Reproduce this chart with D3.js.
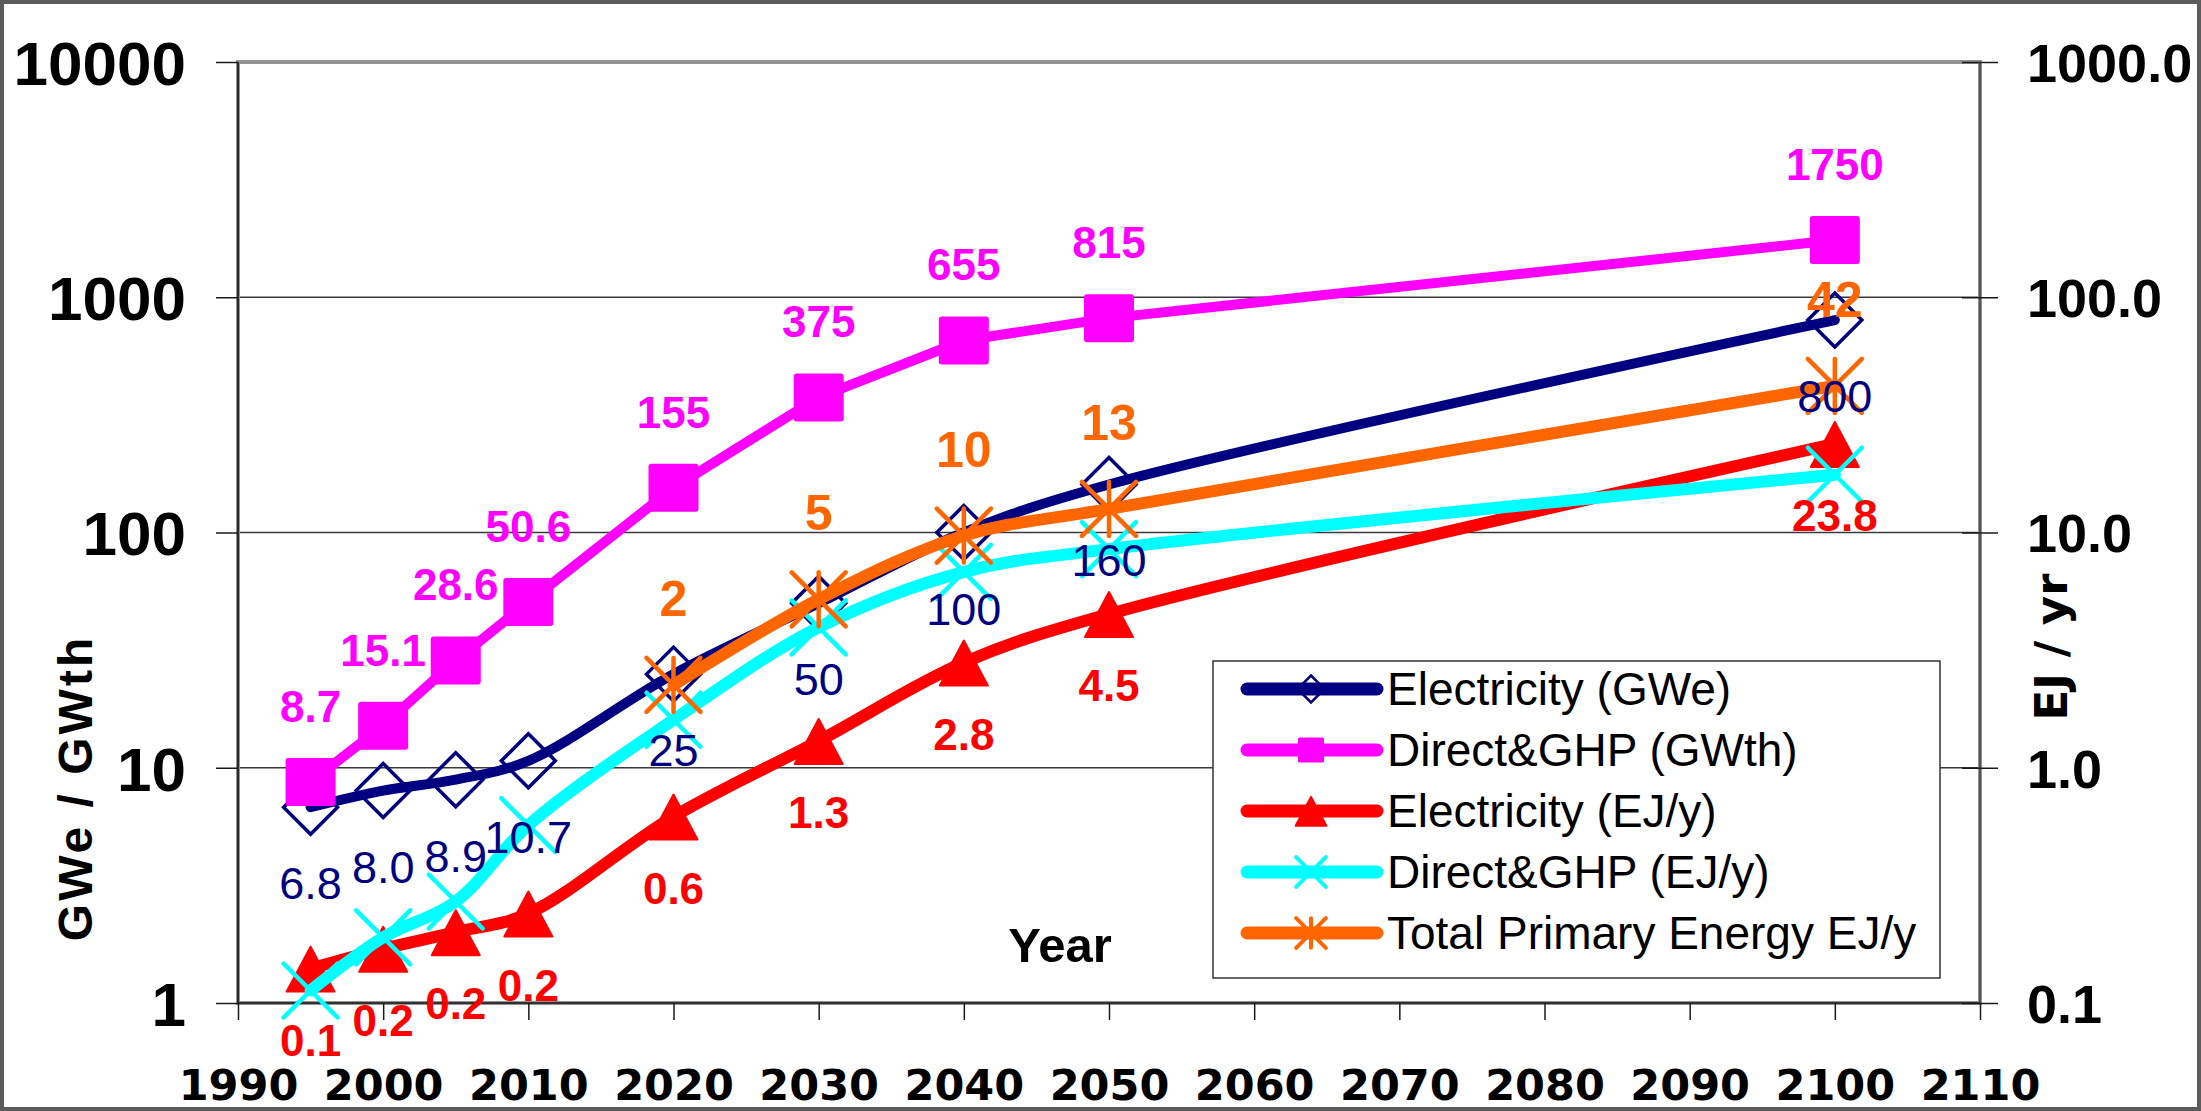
<!DOCTYPE html>
<html>
<head>
<meta charset="utf-8">
<title>Geothermal capacity and energy, 1995-2100</title>
<script src="https://d3js.org/d3.v7.min.js"></script>
<style>
  body { margin: 0; background: #fff; }
  svg { display: block; }
  .ax text { fill: #000; font-weight: bold; }
  .ax line { stroke: #1a1a1a; stroke-width: 1.5; }
</style>
</head>
<body>
<div id="chart"></div>
<script>
// x categories (years) and series values
var years = [1995, 2000, 2005, 2010, 2020, 2030, 2040, 2050, 2100];
var elecGWe = [6.8, 8.0, 8.9, 10.7, 25, 50, 100, 160, 800];
var directGWth = [8.7, 15.1, 28.6, 50.6, 155, 375, 655, 815, 1750];
var elecEJ = [0.14, 0.17, 0.2, 0.24, 0.62, 1.3, 2.8, 4.5, 23.8];
var directEJ = [0.113, 0.19, 0.27, 0.57, 1.6, 3.95, 6.8, 8.5, 17.6];
var tpeYears = [2020, 2030, 2040, 2050, 2100];
var tpeEJ = [2.25, 5.2, 9.7, 12.6, 42];

// tick labels
var xTicks = [1990, 2000, 2010, 2020, 2030, 2040, 2050, 2060, 2070, 2080, 2090, 2100, 2110];
var leftTicks = [1, 10, 100, 1000, 10000];
var rightTicks = [0.1, 1, 10, 100, 1000];

var W = 2201, H = 1111;
var ARIAL = "'Liberation Sans', Arial, sans-serif";
var VERDANA = "'DejaVu Sans', Verdana, sans-serif";

var svg = d3.select("#chart").append("svg")
  .attr("width", W)
  .attr("height", H);

svg.append("rect").attr("width", W).attr("height", H).attr("fill", "#fff");

var x = d3.scaleLinear().domain([1990, 2110]).range([238, 1980]);
var yL = d3.scaleLog().domain([1, 10000]).range([1003, 62]);
var yR = d3.scaleLog().domain([0.1, 1000]).range([1003, 62]);

// gridlines
svg.append("g").selectAll("line")
  .data([10, 100, 1000])
  .enter().append("line")
  .attr("x1", x(1990)).attr("x2", x(2110))
  .attr("y1", function(d) { return yL(d); })
  .attr("y2", function(d) { return yL(d); })
  .attr("stroke", "#3a3a3a")
  .attr("stroke-width", 1.3);

// plot area border
svg.append("rect")
  .attr("x", x(1990)).attr("y", yL(10000))
  .attr("width", x(2110) - x(1990))
  .attr("height", yL(1) - yL(10000))
  .attr("fill", "none")
  .attr("stroke", "#929292")
  .attr("stroke-width", 4);

svg.append("line")
  .attr("x1", x(1990)).attr("x2", x(1990))
  .attr("y1", yL(10000)).attr("y2", yL(1))
  .attr("stroke", "#111").attr("stroke-width", 1.6);
svg.append("line")
  .attr("x1", x(1990)).attr("x2", x(2110))
  .attr("y1", yL(1)).attr("y2", yL(1))
  .attr("stroke", "#111").attr("stroke-width", 1.6);
svg.append("line")
  .attr("x1", x(2110)).attr("x2", x(2110))
  .attr("y1", yL(10000)).attr("y2", yL(1))
  .attr("stroke", "#444").attr("stroke-width", 1.6);

// axes
var xAxis = svg.append("g").attr("class", "ax")
  .attr("transform", "translate(0," + yL(1) + ")")
  .call(d3.axisBottom(x).tickValues(xTicks).tickSize(17).tickPadding(49)
    .tickFormat(d3.format("d")));
xAxis.select(".domain").remove();
xAxis.selectAll("text").style("font-family", VERDANA).style("font-size", "43px");

var leftAxis = svg.append("g").attr("class", "ax")
  .attr("transform", "translate(" + x(1990) + ",0)")
  .call(d3.axisLeft(yL).tickValues(leftTicks).tickSize(22).tickPadding(30)
    .tickFormat(d3.format("d")));
leftAxis.select(".domain").remove();
leftAxis.selectAll("text").attr("dy", "0.36em")
  .style("font-family", ARIAL).style("font-size", "62px");

var rightAxis = svg.append("g").attr("class", "ax")
  .attr("transform", "translate(" + (x(2110) - 18) + ",0)")
  .call(d3.axisRight(yR).tickValues(rightTicks).tickSize(36).tickPadding(29)
    .tickFormat(d3.format(".1f")));
rightAxis.select(".domain").remove();
rightAxis.selectAll("text").attr("dy", "0.36em")
  .style("font-family", ARIAL).style("font-size", "54px");

// axis titles
svg.append("text")
  .attr("x", 1060).attr("y", 962)
  .attr("text-anchor", "middle")
  .style("font-family", ARIAL).style("font-weight", "bold").style("font-size", "49px")
  .text("Year");

svg.append("text")
  .attr("transform", "translate(92,788) rotate(-90)")
  .attr("text-anchor", "middle")
  .style("font-family", ARIAL).style("font-weight", "bold").style("font-size", "48px")
  .style("letter-spacing", "3px")
  .text("GWe / GWth");

svg.append("text")
  .attr("transform", "translate(2067,647) rotate(-90)")
  .attr("text-anchor", "middle")
  .style("font-family", VERDANA).style("font-weight", "bold").style("font-size", "45px")
  .text("EJ / yr");

// series
var fmtGW = function(v) { return (Number.isInteger(v) && v >= 20) ? String(v) : v.toFixed(1); };

var series = [
  { name: "Electricity (GWe)", xs: years, vs: elecGWe, y: yL, color: "#000080", width: 10,
    curve: d3.curveCatmullRom, marker: "diamond", fmt: fmtGW, dy: 92, font: "normal", size: 45 },
  { name: "Direct&GHP (GWth)", xs: years, vs: directGWth, y: yL, color: "#ff00ff", width: 10,
    curve: d3.curveLinear, marker: "square", fmt: fmtGW, dy: -60, font: "bold", size: 44 },
  { name: "Electricity (EJ/y)", xs: years, vs: elecEJ, y: yR, color: "#ff0000", width: 12,
    curve: d3.curveCatmullRom, marker: "triangle", fmt: function(v) { return v.toFixed(1); },
    dy: 87, font: "bold", size: 44 },
  { name: "Direct&GHP (EJ/y)", xs: years, vs: directEJ, y: yR, color: "#00ffff", width: 12,
    curve: d3.curveCatmullRom, marker: "cross", fmt: null },
  { name: "Total Primary Energy EJ/y", xs: tpeYears, vs: tpeEJ, y: yR, color: "#ff6600", width: 12,
    curve: d3.curveCatmullRom, marker: "star", fmt: function(v) { return v.toFixed(0); },
    dy: -69, font: "bold", size: 50 }
];

// legend markers are drawn smaller than the ones on the lines
var legendScale = { diamond: 0.5, square: 0.52, triangle: 0.64, cross: 0.55, star: 0.55 };

function drawMarker(g, type, color, s) {
  if (type === "diamond") {
    var d = 27 * s;
    g.append("path").attr("d", "M0," + (-d) + "L" + d + ",0L0," + d + "L" + (-d) + ",0Z")
      .attr("fill", "none").attr("stroke", color).attr("stroke-width", s < 1 ? 2.5 : 3.5);
  } else if (type === "square") {
    g.append("rect").attr("x", -25 * s).attr("y", -24 * s)
      .attr("width", 50 * s).attr("height", 48 * s)
      .attr("rx", 3 * s).attr("fill", color);
  } else if (type === "triangle") {
    g.append("path").attr("d", "M0," + (-22 * s) + "L" + (24 * s) + "," + (23 * s) + "L" + (-24 * s) + "," + (23 * s) + "Z")
      .attr("fill", color).attr("stroke", color).attr("stroke-width", 2).attr("stroke-linejoin", "round");
  } else if (type === "cross" || type === "star") {
    var r = 27 * s;
    g.append("path")
      .attr("d", "M" + (-r) + "," + (-r) + "L" + r + "," + r + "M" + (-r) + "," + r + "L" + r + "," + (-r) +
        (type === "star" ? "M0," + (-r) + "L0," + r : ""))
      .attr("stroke", color).attr("stroke-width", s < 1 ? 4 : 4.5).attr("stroke-linecap", "round");
  }
}

series.forEach(function(s) {
  var pts = s.xs.map(function(yr, i) { return [x(yr), s.y(s.vs[i])]; });
  var line = d3.line().curve(s.curve);
  var g = svg.append("g");
  g.append("path")
    .attr("d", line(pts))
    .attr("fill", "none")
    .attr("stroke", s.color)
    .attr("stroke-width", s.width)
    .attr("stroke-linecap", "round")
    .attr("stroke-linejoin", "round");
  pts.forEach(function(p) {
    var m = g.append("g").attr("transform", "translate(" + p[0] + "," + p[1] + ")");
    drawMarker(m, s.marker, s.color, 1);
  });
});

// data labels on top
series.forEach(function(s) {
  if (!s.fmt) return;
  svg.append("g").selectAll("text")
    .data(s.vs)
    .enter().append("text")
    .attr("x", function(d, i) { return x(s.xs[i]); })
    .attr("y", function(d) { return s.y(d) + s.dy; })
    .attr("text-anchor", "middle")
    .attr("fill", s.color)
    .style("font-family", ARIAL)
    .style("font-weight", s.font)
    .style("font-size", s.size + "px")
    .text(function(d) { return s.fmt(d); });
});

// legend
var legend = svg.append("g").attr("transform", "translate(1213,661)");
legend.append("rect")
  .attr("width", 727).attr("height", 317)
  .attr("fill", "#fff").attr("stroke", "#333").attr("stroke-width", 1.5);
series.forEach(function(s, i) {
  var row = legend.append("g").attr("transform", "translate(0," + (28 + i * 61) + ")");
  row.append("line")
    .attr("x1", 34).attr("x2", 164)
    .attr("stroke", s.color).attr("stroke-width", 13).attr("stroke-linecap", "round");
  var m = row.append("g").attr("transform", "translate(98,0)");
  drawMarker(m, s.marker, s.color, legendScale[s.marker]);
  row.append("text")
    .attr("x", 174).attr("y", 16)
    .style("font-family", ARIAL).style("font-size", "46px")
    .text(s.name);
});

// outer frame
svg.append("rect")
  .attr("x", 2).attr("y", 2).attr("width", W - 4).attr("height", H - 4)
  .attr("fill", "none").attr("stroke", "#5c5c5c").attr("stroke-width", 4);
</script>
</body>
</html>
